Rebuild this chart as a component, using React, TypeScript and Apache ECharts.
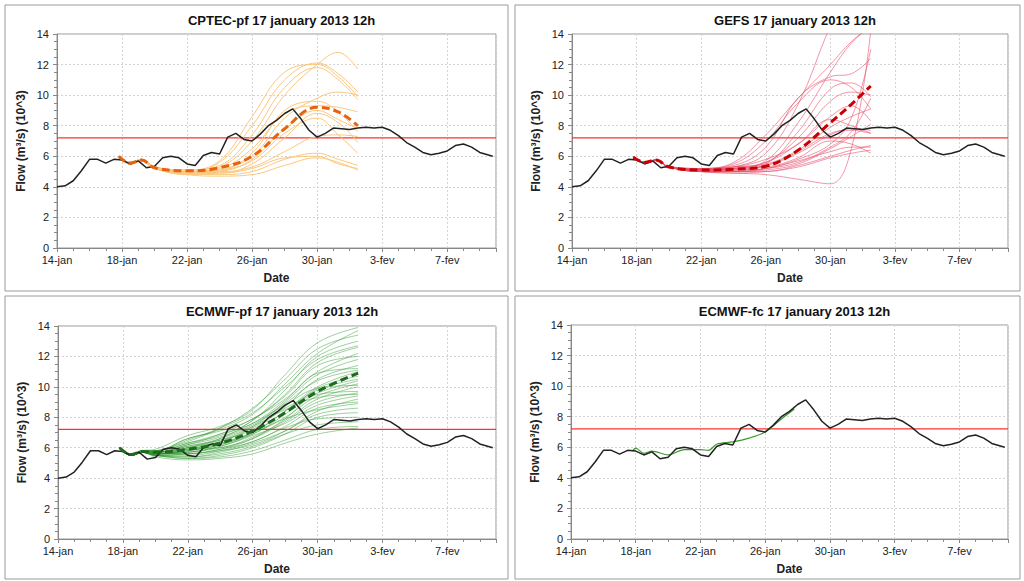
import React, { useEffect, useRef } from 'react';
import * as echarts from 'echarts';

// days since 14-jan
const TICK_LABELS = ['14-jan', '18-jan', '22-jan', '26-jan', '30-jan', '3-fev', '7-fev'];
const THRESHOLD = 7.2;

const OBS_DAYS = [0, 0.5, 1, 1.5, 2, 2.5, 3, 3.5, 4, 4.5, 5, 5.5, 6, 6.5, 7, 7.5, 8, 8.5, 9, 9.5, 10, 10.5, 11, 11.5, 12, 12.5, 13, 13.5, 14, 14.5, 15, 15.5, 16, 16.5, 17, 17.5, 18, 18.5, 19, 19.5, 20, 20.5, 21, 21.5, 22, 22.5, 23, 23.5, 24, 24.5, 25, 25.5, 26, 26.8];
const OBS = [4.0, 4.07, 4.4, 5.05, 5.8, 5.8, 5.55, 5.8, 5.75, 5.5, 5.7, 5.25, 5.35, 5.9, 6.0, 5.9, 5.5, 5.4, 6.05, 6.25, 6.15, 7.25, 7.5, 7.1, 7.0, 7.45, 8.0, 8.35, 8.8, 9.1, 8.45, 7.7, 7.25, 7.5, 7.85, 7.8, 7.75, 7.85, 7.9, 7.85, 7.9, 7.7, 7.35, 6.9, 6.6, 6.25, 6.1, 6.2, 6.35, 6.7, 6.8, 6.6, 6.25, 6.0];

// CPTEC-pf
const CPTEC_DAYS = [3.8, 4.5, 5.2, 6, 8, 10, 12, 14, 16, 17.3, 18.5];
const CPTEC_MEAN = [6.0, 5.55, 5.75, 5.25, 5.05, 5.25, 6.0, 7.8, 9.2, 8.9, 8.0];
const CPTEC_MEMBERS = [
  [6.0, 5.6, 5.8, 5.3, 5.0, 5.6, 8.0, 11.0, 12.1, 11.4, 10.2],
  [6.0, 5.6, 5.8, 5.3, 5.1, 5.7, 8.6, 11.5, 12.0, 11.2, 9.9],
  [6.0, 5.6, 5.8, 5.3, 5.0, 5.3, 7.0, 10.0, 12.0, 12.8, 11.7],
  [5.9, 5.5, 5.7, 5.2, 4.9, 5.1, 6.0, 8.5, 9.8, 10.2, 10.0],
  [5.9, 5.5, 5.7, 5.2, 4.8, 5.0, 6.2, 9.0, 9.6, 8.9, 7.6],
  [5.9, 5.5, 5.7, 5.3, 5.0, 5.2, 6.5, 8.8, 9.3, 9.2, 8.9],
  [5.9, 5.5, 5.7, 5.2, 4.9, 4.9, 5.5, 7.2, 8.8, 8.2, 6.9],
  [5.9, 5.6, 5.8, 5.3, 5.0, 5.1, 5.7, 7.5, 8.5, 7.4, 6.2],
  [5.9, 5.5, 5.7, 5.2, 4.9, 4.8, 5.0, 5.8, 6.2, 5.8, 5.4],
  [5.9, 5.5, 5.7, 5.2, 4.8, 4.7, 4.8, 5.4, 5.9, 5.6, 5.1],
  [5.9, 5.5, 5.7, 5.2, 4.9, 4.9, 5.2, 5.9, 6.0, 5.5, 5.2],
  [6.0, 5.6, 5.8, 5.3, 5.0, 5.0, 5.3, 6.3, 7.3, 7.4, 7.3],
  [5.9, 5.5, 5.7, 5.2, 4.9, 5.0, 5.8, 7.8, 9.0, 8.4, 7.8],
  [6.0, 5.6, 5.8, 5.3, 5.1, 5.4, 7.4, 10.5, 11.8, 11.0, 9.7],
];

// GEFS
const GEFS_DAYS = [3.8, 4.5, 5.2, 6, 8, 10, 12, 14, 16, 17.3, 18.5];
const GEFS_MEAN = [5.95, 5.6, 5.75, 5.3, 5.1, 5.15, 5.35, 6.4, 8.2, 9.4, 10.6];
const GEFS_MEMBERS = [
  [5.95, 5.6, 5.75, 5.3, 5.1, 5.3, 6.2, 9.4, 14.5, 17, 18],
  [5.95, 5.6, 5.75, 5.3, 5.0, 5.2, 5.7, 8.2, 11.5, 13.4, 14.5],
  [5.95, 5.6, 5.75, 5.3, 5.2, 5.4, 6.6, 9.8, 11.2, 11.4, 12.4],
  [5.95, 5.6, 5.75, 5.3, 5.1, 5.1, 5.5, 7.6, 10.4, 10.8, 9.9],
  [5.95, 5.6, 5.75, 5.3, 5.2, 5.5, 7.0, 9.5, 11.0, 10.5, 9.1],
  [5.95, 5.6, 5.75, 5.3, 5.0, 4.9, 4.8, 4.5, 4.2, 6.5, 14.2],
  [5.95, 5.6, 5.75, 5.3, 5.1, 5.0, 5.2, 5.8, 6.8, 8.5, 13.0],
  [5.95, 5.6, 5.75, 5.3, 5.0, 5.0, 5.1, 5.5, 6.5, 7.3, 8.1],
  [5.95, 5.6, 5.75, 5.3, 5.1, 5.2, 5.4, 6.2, 7.4, 7.8, 7.7],
  [5.95, 5.6, 5.75, 5.3, 5.1, 5.3, 5.6, 6.8, 8.4, 8.0, 7.5],
  [5.95, 5.6, 5.75, 5.3, 5.0, 5.0, 5.0, 5.4, 6.0, 6.4, 6.7],
  [5.95, 5.6, 5.75, 5.3, 5.0, 4.9, 5.0, 5.3, 5.9, 6.2, 6.4],
  [5.95, 5.6, 5.75, 5.3, 5.1, 5.2, 5.3, 5.9, 7.0, 6.8, 6.2],
  [5.95, 5.6, 5.75, 5.3, 5.2, 5.3, 5.5, 6.4, 7.9, 8.6, 9.1],
  [5.95, 5.6, 5.75, 5.3, 5.1, 5.1, 5.2, 5.6, 6.6, 7.6, 9.8],
  [5.95, 5.6, 5.75, 5.3, 5.1, 5.2, 5.6, 7.2, 9.6, 10.2, 10.0],
  [5.95, 5.6, 5.75, 5.3, 5.0, 5.1, 5.4, 6.3, 7.5, 7.7, 7.5],
  [5.95, 5.6, 5.75, 5.3, 5.1, 5.0, 5.2, 5.7, 6.3, 6.6, 6.6],
  [5.95, 5.6, 5.75, 5.3, 5.2, 5.6, 7.4, 9.8, 12.0, 13.5, 14.5],
  [5.95, 5.6, 5.75, 5.3, 5.1, 5.3, 5.8, 6.8, 8.6, 9.3, 8.3],
];

// ECMWF-pf
const ECPF_DAYS = [3.8, 4.5, 5.2, 6, 8, 10, 12, 14, 16, 18.5];
const ECPF_MEAN = [6.0, 5.55, 5.75, 5.7, 5.9, 6.3, 7.1, 8.3, 9.7, 10.9];
const ECPF_MEMBERS = [
  [6.0, 5.5, 5.8, 5.9, 6.8, 7.4, 8.5, 10.8, 12.9, 13.9],
  [6.0, 5.5, 5.8, 5.8, 6.6, 7.2, 8.2, 10.2, 12.2, 13.7],
  [6.0, 5.5, 5.7, 5.8, 6.4, 7.3, 8.6, 10.5, 12.5, 13.4],
  [6.0, 5.6, 5.8, 5.7, 6.3, 6.8, 7.8, 9.8, 12.0, 13.0],
  [6.0, 5.5, 5.7, 5.6, 6.0, 6.6, 7.8, 9.5, 11.6, 12.6],
  [6.0, 5.5, 5.8, 5.7, 6.2, 6.9, 7.9, 9.2, 11.0, 12.2],
  [6.0, 5.6, 5.7, 5.6, 5.9, 6.4, 7.4, 9.0, 10.8, 11.8],
  [6.0, 5.5, 5.7, 5.7, 6.1, 6.5, 7.2, 8.7, 10.5, 11.4],
  [6.0, 5.5, 5.8, 5.8, 6.3, 6.9, 7.6, 8.9, 10.4, 11.1],
  [6.0, 5.5, 5.7, 5.6, 5.8, 6.2, 7.0, 8.4, 10.0, 11.0],
  [6.0, 5.6, 5.7, 5.6, 5.7, 6.1, 6.9, 8.2, 9.9, 10.7],
  [6.0, 5.5, 5.7, 5.7, 6.0, 6.4, 7.3, 8.6, 9.6, 10.4],
  [6.0, 5.5, 5.7, 5.6, 5.8, 6.3, 7.0, 8.0, 9.4, 10.2],
  [6.0, 5.5, 5.8, 5.7, 5.9, 6.0, 6.7, 7.8, 9.2, 10.0],
  [6.0, 5.5, 5.7, 5.5, 5.6, 5.9, 6.6, 7.9, 9.5, 9.7],
  [6.0, 5.6, 5.7, 5.6, 5.7, 6.1, 6.8, 7.6, 8.8, 9.4],
  [6.0, 5.5, 5.7, 5.5, 5.5, 5.8, 6.4, 7.4, 8.6, 9.0],
  [6.0, 5.5, 5.7, 5.6, 5.8, 6.2, 6.9, 7.9, 8.5, 8.9],
  [6.0, 5.5, 5.7, 5.5, 5.4, 5.7, 6.3, 7.1, 8.2, 8.6],
  [6.0, 5.5, 5.7, 5.5, 5.3, 5.5, 6.0, 6.9, 8.0, 8.3],
  [6.0, 5.5, 5.7, 5.6, 5.6, 5.9, 6.4, 7.3, 7.9, 8.0],
  [6.0, 5.5, 5.7, 5.5, 5.4, 5.6, 6.1, 6.9, 7.5, 7.7],
  [6.0, 5.5, 5.7, 5.5, 5.3, 5.4, 5.8, 6.5, 7.2, 7.4],
  [6.0, 5.5, 5.7, 5.4, 5.2, 5.3, 5.6, 6.3, 6.9, 7.3],
  [6.0, 5.5, 5.8, 5.8, 6.6, 7.1, 7.9, 9.4, 11.4, 12.0],
  [6.0, 5.5, 5.7, 5.7, 6.2, 6.7, 7.6, 9.1, 10.9, 11.2],
  [6.0, 5.6, 5.8, 5.7, 6.1, 6.6, 7.5, 8.8, 9.9, 10.1],
  [6.0, 5.5, 5.7, 5.6, 5.9, 6.3, 7.0, 8.4, 9.8, 10.5],
  [6.0, 5.5, 5.7, 5.6, 5.7, 6.0, 6.6, 7.7, 9.0, 9.6],
  [6.0, 5.5, 5.7, 5.5, 5.6, 5.8, 6.2, 7.1, 8.4, 9.2],
  [6.0, 5.5, 5.8, 5.8, 6.5, 7.3, 8.3, 10.0, 11.8, 12.7],
  [6.0, 5.5, 5.7, 5.6, 6.0, 6.5, 7.4, 8.5, 9.3, 9.5],
];

// ECMWF-fc
const ECFC_DAYS = [3.8, 4.0, 4.5, 5, 6, 7, 8, 8.5, 9, 10, 11, 12, 13, 13.8];
const ECFC = [5.75, 5.95, 5.6, 5.75, 5.5, 5.85, 5.85, 5.8, 6.2, 6.35, 6.6, 7.0, 7.85, 8.5];

const TITLES = [
  'CPTEC-pf 17 january 2013 12h',
  'GEFS 17 january 2013 12h',
  'ECMWF-pf 17 january 2013 12h',
  'ECMWF-fc 17 january 2013 12h',
];

const FONT = 'Liberation Sans';
const zip = (xs: number[], ys: number[]) => xs.map((x, i) => [x, ys[i]]);

// panel frames and plot areas (pixels)
const PANELS = [
  { x: 5, y: 5, w: 503, h: 286, grid: { left: 57, top: 34, width: 439, height: 214 } },
  { x: 515, y: 5, w: 505, h: 286, grid: { left: 572, top: 34, width: 436, height: 214 } },
  { x: 5, y: 296, w: 503, h: 283, grid: { left: 58, top: 326, width: 438, height: 213 } },
  { x: 515, y: 296, w: 505, h: 283, grid: { left: 571, top: 325, width: 437, height: 214 } },
];

export default function App() {
  const ref = useRef<HTMLDivElement>(null);

  useEffect(() => {
    if (!ref.current) return;
    const chart = echarts.init(ref.current, null, { renderer: 'svg' });

    const series: any[] = [];
    const addLine = (i: number, data: number[][], color: string, width: number, extra: any = {}) => {
      series.push({
        type: 'line',
        xAxisIndex: i,
        yAxisIndex: i,
        data,
        showSymbol: false,
        silent: true,
        lineStyle: { color, width },
        ...extra,
      });
    };

    PANELS.forEach((_, i) => {
      addLine(i, [[0, THRESHOLD], [27, THRESHOLD]], '#ff3030', 1.2);
    });

    CPTEC_MEMBERS.forEach(m => addLine(0, zip(CPTEC_DAYS, m), '#fbc77e', 1, { smooth: 0.4 }));
    GEFS_MEMBERS.forEach(m => addLine(1, zip(GEFS_DAYS, m), 'rgba(232,80,110,0.6)', 1, { smooth: 0.4 }));
    ECPF_MEMBERS.forEach(m => addLine(2, zip(ECPF_DAYS, m), 'rgba(40,150,40,0.45)', 1, { smooth: 0.4 }));
    addLine(3, zip(ECFC_DAYS, ECFC), '#3a9a2a', 1.2, { smooth: 0.3 });

    PANELS.forEach((_, i) => addLine(i, zip(OBS_DAYS, OBS), '#222', 1.5));

    addLine(0, zip(CPTEC_DAYS, CPTEC_MEAN), '#e8620e', 3, { smooth: 0.4, lineStyle: { color: '#e8620e', width: 3, type: [8, 4] } });
    addLine(1, zip(GEFS_DAYS, GEFS_MEAN), '#c80000', 3, { smooth: 0.4, lineStyle: { color: '#c80000', width: 3, type: [8, 4] } });
    addLine(2, zip(ECPF_DAYS, ECPF_MEAN), '#1f6a1f', 3, { smooth: 0.4, lineStyle: { color: '#1f6a1f', width: 3, type: [8, 4] } });

    const axisText = { color: '#222', fontFamily: FONT, fontSize: 11 };

    chart.setOption({
      animation: false,
      backgroundColor: '#fff',
      title: PANELS.map((p, i) => ({
        text: TITLES[i],
        left: p.grid.left + p.grid.width / 2,
        textAlign: 'center',
        top: p.y + 4,
        textStyle: { fontFamily: FONT, fontSize: 13, fontWeight: 'bold', color: '#111' },
      })),
      graphic: PANELS.map(p => ({
        type: 'rect',
        shape: { x: p.x, y: p.y, width: p.w, height: p.h },
        style: { fill: 'none', stroke: '#9a9a9a', lineWidth: 1 },
        silent: true,
      })),
      grid: PANELS.map(p => ({ ...p.grid, show: true, borderColor: '#999', borderWidth: 1 })),
      xAxis: PANELS.map((_, i) => ({
        type: 'value',
        gridIndex: i,
        min: 0,
        max: 27,
        interval: 4,
        name: 'Date',
        nameLocation: 'middle',
        nameGap: 24,
        nameTextStyle: { ...axisText, fontWeight: 'bold', fontSize: 12 },
        axisLine: { lineStyle: { color: '#888' } },
        axisTick: { lineStyle: { color: '#888' }, length: 4 },
        minorTick: { show: true, splitNumber: 4, length: 3, lineStyle: { color: '#888' } },
        axisLabel: {
          ...axisText,
          margin: 6,
          showMaxLabel: false,
          formatter: (v: number) => TICK_LABELS[v / 4] ?? '',
        },
        splitLine: { show: true, lineStyle: { color: '#d4d4d4', type: [2, 2] } },
      })),
      yAxis: PANELS.map((_, i) => ({
        type: 'value',
        gridIndex: i,
        min: 0,
        max: 14,
        interval: 2,
        name: 'Flow (m³/s) (10^3)',
        nameLocation: 'middle',
        nameGap: 30,
        nameTextStyle: { ...axisText, fontWeight: 'bold', fontSize: 12 },
        axisLine: { show: true, lineStyle: { color: '#888' } },
        axisTick: { show: true, lineStyle: { color: '#888' }, length: 4 },
        minorTick: { show: true, splitNumber: 4, length: 3, lineStyle: { color: '#888' } },
        axisLabel: { ...axisText, margin: 8 },
        splitLine: { show: true, lineStyle: { color: '#d4d4d4', type: [2, 2] } },
      })),
      series,
    });

    return () => chart.dispose();
  }, []);

  return (
    <div
      ref={ref}
      style={{ position: 'fixed', left: 0, top: 0, width: 1024, height: 581, background: '#fff' }}
    />
  );
}
